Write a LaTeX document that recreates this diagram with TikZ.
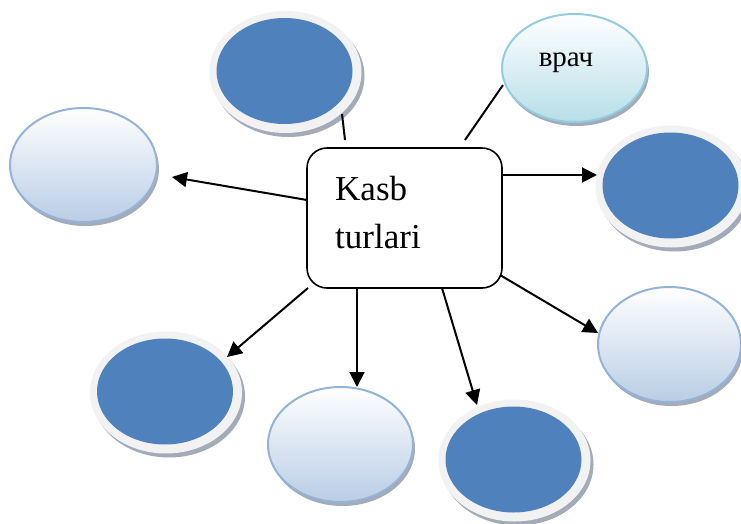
\documentclass[tikz,border=0pt]{standalone}
\usepackage{fontspec}
\setmainfont{Liberation Serif}
\usetikzlibrary{arrows.meta,shapes.geometric}
\definecolor{darkblue}{HTML}{4F81BD}
\definecolor{ringgray}{HTML}{F2F2F2}
\definecolor{shadowgray}{HTML}{A3ABB8}
\definecolor{lightedge}{HTML}{95B3D7}
\definecolor{lightbot}{HTML}{B9CDE5}
\definecolor{cyanedge}{HTML}{93CDDD}
\definecolor{cyanbot}{HTML}{B7DEE8}
\newcommand\DarkOval[3]{%
  \node[shadowell, minimum width=152pt, minimum height=122pt] at (#2+4,#3+5) {};
  \node[ringell, minimum width=152pt, minimum height=122pt] (#1ring) at (#2+1,#3+1) {};
  \node[darkell, minimum width=136pt, minimum height=106pt] (#1) at (#2,#3) {};}
\newcommand\LightOval[7]{%
  \node[shadowell, minimum width=#4, minimum height=#5] at (#2+2,#3+4) {};
  \node[lightell, draw=#6, bottom color=#7, minimum width=#4, minimum height=#5] (#1) at (#2,#3) {};}
\begin{document}
\begin{tikzpicture}[x=1pt,y=-1pt,
  darkell/.style={ellipse, inner sep=0pt, fill=darkblue},
  ringell/.style={ellipse, inner sep=0pt, fill=ringgray},
  shadowell/.style={ellipse, inner sep=0pt, fill=shadowgray},
  lightell/.style={ellipse, inner sep=0pt, line width=2pt, top color=white},
  conn/.style={line width=2pt},
  arr/.style={line width=2pt, -{Triangle[length=15pt,width=15pt]}},
  bigtext/.style={anchor=base west, inner sep=0pt, font=\fontsize{35}{42}\selectfont},
  ]
\useasboundingbox (0,0) rectangle (741,524);
\fill[white] (0,0) rectangle (741,524);

% dark ovals
\DarkOval{top}{284.5}{71}
\DarkOval{right}{670.5}{185.5}
\DarkOval{botleft}{165}{391.5}
\DarkOval{bottom}{513.5}{459.5}

% light ovals
\LightOval{left}{83.5}{165}{147pt}{114pt}{lightedge}{lightbot}
\LightOval{botmid}{340.5}{444.5}{145pt}{115pt}{lightedge}{lightbot}
\LightOval{rightlow}{669.5}{344.5}{143pt}{115pt}{lightedge}{lightbot}
\LightOval{vrach}{574.5}{68}{145pt}{108pt}{cyanedge}{cyanbot}
\node[anchor=base, inner sep=0pt, font=\fontsize{29}{34}\selectfont] (vrachtext) at (566,67) {врач};

% central box
\node[draw, fill=white, line width=1.6pt, rounded corners=20pt, minimum width=195pt, minimum height=140pt, inner sep=0pt] (box) at (404.5,218) {};
\node[bigtext] (kasb) at (335,200) {Kasb};
\node[bigtext] (turlari) at (335,248) {turlari};

% connector end points
\coordinate (cTopA) at (345,140);
\coordinate (cTopB) at (342,114);
\coordinate (cVrA) at (465,140);
\coordinate (cVrB) at (503,85);
\coordinate (sL) at (307,200);
\coordinate (eL) at (172,177);
\coordinate (sR) at (502,175);
\coordinate (eR) at (597,175);
\coordinate (sBL) at (308,288);
\coordinate (eBL) at (227,357);
\coordinate (sBM) at (357,288);
\coordinate (eBM) at (357,387);
\coordinate (sB) at (442,288);
\coordinate (eB) at (477,405);
\coordinate (sRL) at (500,275);
\coordinate (eRL) at (598,333);

\draw[conn] (cTopA) -- (cTopB);
\draw[conn] (cVrA) -- (cVrB);
\draw[arr] (sL) -- (eL);
\draw[arr] (sR) -- (eR);
\draw[arr] (sBL) -- (eBL);
\draw[arr] (sBM) -- (eBM);
\draw[arr] (sB) -- (eB);
\draw[arr] (sRL) -- (eRL);
\end{tikzpicture}
\end{document}
